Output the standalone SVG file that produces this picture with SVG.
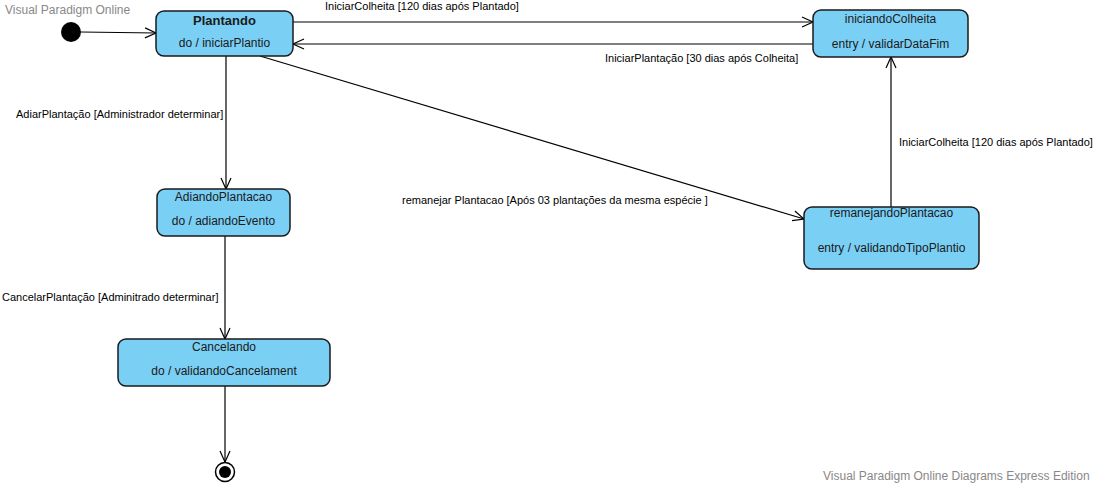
<svg xmlns="http://www.w3.org/2000/svg" width="1095" height="485" viewBox="0 0 1095 485">
<defs>
<style>
.st{fill:#7ACFF5;stroke:#1a1a1a;stroke-width:1.5}
.t{font-family:"Liberation Sans",Arial,sans-serif;font-size:12px;fill:#1a1a1a;text-anchor:middle}
.b{font-weight:bold;font-size:13px}
.l{font-family:"Liberation Sans",Arial,sans-serif;font-size:11px;fill:#000}
.w{font-family:"Liberation Sans",Arial,sans-serif;font-size:12px;fill:#888}
.c{fill:none;stroke:#000;stroke-width:1.2}
</style>
<marker id="a" markerWidth="14" markerHeight="12" refX="12" refY="6" orient="auto" markerUnits="userSpaceOnUse">
<path d="M1,1 L12,6 L1,11" fill="none" stroke="#000" stroke-width="1.2"/>
</marker>
</defs>
<rect width="1095" height="485" fill="#fff"/>
<text class="w" x="5" y="14">Visual Paradigm Online</text>
<text class="w" x="823" y="480">Visual Paradigm Online Diagrams Express Edition</text>
<g id="connectors">
<line class="c" x1="81" y1="32" x2="156" y2="33" marker-end="url(#a)"/>
<line class="c" x1="293" y1="22" x2="813" y2="22" marker-end="url(#a)"/>
<text class="l" x="325" y="10">IniciarColheita [120 dias após Plantado]</text>
<line class="c" x1="813" y1="44" x2="293" y2="44" marker-end="url(#a)"/>
<text class="l" x="605" y="62">IniciarPlantação [30 dias após Colheita]</text>
<line class="c" x1="226" y1="56" x2="226" y2="189" marker-end="url(#a)"/>
<text class="l" x="16" y="118">AdiarPlantação [Administrador determinar]</text>
<line class="c" x1="225" y1="236" x2="225" y2="339" marker-end="url(#a)"/>
<text class="l" x="2" y="301">CancelarPlantação [Adminitrado determinar]</text>
<line class="c" x1="225" y1="386" x2="225" y2="462" marker-end="url(#a)"/>
<line class="c" x1="260" y1="56" x2="804" y2="219" marker-end="url(#a)"/>
<text class="l" x="402" y="204">remanejar Plantacao [Após 03 plantações da mesma espécie ]</text>
<line class="c" x1="891" y1="207" x2="891" y2="57" marker-end="url(#a)"/>
<text class="l" x="899" y="146">IniciarColheita [120 dias após Plantado]</text>
</g>
<g id="initial"><circle cx="71" cy="32" r="10" fill="#000"/></g>
<g id="plantando">
<rect class="st" x="156" y="11" width="137" height="45" rx="8"/>
<text class="t b" x="224.5" y="25">Plantando</text>
<text class="t" x="224.5" y="47">do / iniciarPlantio</text>
</g>
<g id="iniciandoColheita">
<rect class="st" x="813" y="10" width="155" height="47" rx="8"/>
<text class="t" x="890.5" y="23">iniciandoColheita</text>
<text class="t" x="890.5" y="48">entry / validarDataFim</text>
</g>
<g id="adiandoPlantacao">
<rect class="st" x="157" y="189" width="133" height="47" rx="8"/>
<text class="t" x="223.5" y="201">AdiandoPlantacao</text>
<text class="t" x="223.5" y="225">do / adiandoEvento</text>
</g>
<g id="cancelando">
<rect class="st" x="118" y="339" width="212" height="47" rx="8"/>
<text class="t" x="224" y="351">Cancelando</text>
<text class="t" x="224" y="375">do / validandoCancelament</text>
</g>
<g id="remanejandoPlantacao">
<rect class="st" x="804" y="207" width="175" height="62" rx="8"/>
<text class="t" x="891.5" y="217">remanejandoPlantacao</text>
<text class="t" x="891.5" y="252">entry / validandoTipoPlantio</text>
</g>
<g id="final">
<circle cx="225" cy="472" r="9.5" fill="#fff" stroke="#000" stroke-width="1.5"/>
<circle cx="225" cy="472" r="6" fill="#000"/>
</g>
</svg>
